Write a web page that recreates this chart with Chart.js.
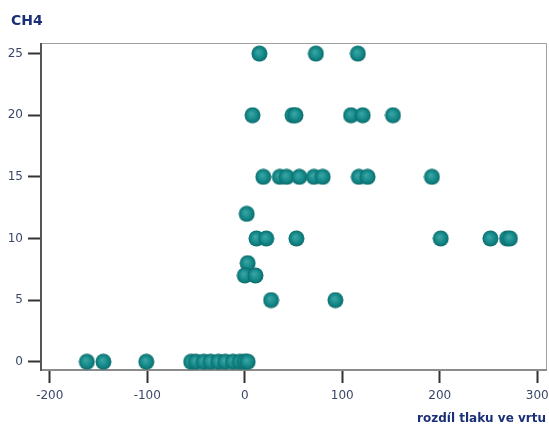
<!DOCTYPE html>
<html><head><meta charset="utf-8">
<script src="https://cdn.jsdelivr.net/npm/chart.js@4/dist/chart.umd.min.js"></script>
<style>html,body{margin:0;padding:0;background:#fff}#wrap{width:549px;height:426px;position:relative}</style>
</head><body><div id="wrap"><canvas id="c" width="549" height="426"></canvas></div>
<script>
const chartTitle = 'CH4';
const xAxisTitle = 'rozdíl tlaku ve vrtu';
const pressureDiff = [
  15, 73, 116,
  8, 49, 52, 109, 121, 152,
  19, 36, 43, 56, 71, 80, 117, 126, 192,
  2,
  12, 22, 53, 201, 252, 269, 272,
  3,
  0, 11,
  27, 93,
  -162, -145, -101, -55, -50, -42, -35, -27, -20, -12, -5, 0, 3
];
const ch4 = [
  25, 25, 25,
  20, 20, 20, 20, 20, 20,
  15, 15, 15, 15, 15, 15, 15, 15, 15,
  12,
  10, 10, 10, 10, 10, 10, 10,
  8,
  7, 7,
  5, 5,
  0, 0, 0, 0, 0, 0, 0, 0, 0, 0, 0, 0, 0
];
const xTickValues = [-200, -100, 0, 100, 200, 300];
const yTickValues = [0, 5, 10, 15, 20, 25];

function sphere(r) {
  const c = document.createElement('canvas');
  const s = r * 2 + 1;
  c.width = s; c.height = s;
  const g = c.getContext('2d');
  const grad = g.createRadialGradient(s*0.42, s*0.4, 0.5, s/2, s/2, r);
  grad.addColorStop(0, '#3aa5a5');
  grad.addColorStop(0.6, '#158a8a');
  grad.addColorStop(1, '#0c6c6c');
  g.fillStyle = grad;
  g.beginPath(); g.arc(s/2, s/2, r, 0, Math.PI*2); g.fill();
  return c;
}
const ball = sphere(8);

const points = pressureDiff.map((x, i) => ({x: x, y: ch4[i]}));

const framePlugin = {
  id: 'frame',
  beforeDatasetsDraw(chart) {
    const {ctx, chartArea: a} = chart;
    ctx.save();
    ctx.lineWidth = 1;
    ctx.strokeStyle = '#a0a0a0';
    ctx.beginPath();
    ctx.moveTo(a.left, a.top + 0.5); ctx.lineTo(a.right + 0.5, a.top + 0.5);
    ctx.lineTo(a.right + 0.5, a.bottom);
    ctx.stroke();
    ctx.strokeStyle = '#8c8c8c';
    ctx.lineWidth = 2;
    ctx.beginPath();
    ctx.moveTo(a.left, a.bottom); ctx.lineTo(a.right + 1, a.bottom);
    ctx.stroke();
    ctx.strokeStyle = '#555555';
    ctx.lineWidth = 2;
    ctx.beginPath();
    ctx.moveTo(a.left, a.top); ctx.lineTo(a.left, a.bottom + 1);
    ctx.stroke();
    ctx.restore();
  },
  afterDraw(chart) {
    const ctx = chart.ctx;
    ctx.save();
    ctx.font = 'bold 14px "DejaVu Sans"';
    ctx.fillStyle = '#1b2f78';
    ctx.textBaseline = 'middle';
    ctx.textAlign = 'left';
    ctx.fillText(chartTitle, 11, 21);
    ctx.restore();
  }
};

new Chart(document.getElementById('c'), {
  type: 'scatter',
  data: {
    datasets: [{
      data: points,
      pointStyle: ball,
      pointRadius: 8,
      pointHoverRadius: 8,
      backgroundColor: '#158a8a',
      borderWidth: 0,
      clip: false
    }]
  },
  options: {
    responsive: false,
    animation: false,
    devicePixelRatio: 1,
    layout: {autoPadding: false, padding: {top: 43, right: 3, left: 0, bottom: 0}},
    plugins: {legend: {display: false}, tooltip: {enabled: false}, title: {display: false}},
    scales: {
      x: {
        type: 'linear',
        min: -209,
        max: 309,
        afterBuildTicks(s) { s.ticks = xTickValues.map(v => ({value: v})); },
        afterFit(s) { s.height = 56; s.paddingLeft = 0; s.paddingRight = 0; },
        grid: {drawOnChartArea: false, drawTicks: true, tickLength: 13, color: '#333', tickColor: '#333', tickWidth: 2},
        border: {display: false},
        ticks: {autoSkip: false, maxRotation: 0, padding: 6, color: '#3a4868', font: {family: 'DejaVu Sans', size: 12}, callback: v => String(v)},
        title: {display: true, text: xAxisTitle, align: 'end', color: '#1b2f78', font: {family: 'DejaVu Sans', size: 12, weight: 'bold'}, padding: {top: 4, bottom: 0}}
      },
      y: {
        type: 'linear',
        min: -0.67,
        max: 25.86,
        afterBuildTicks(s) { s.ticks = yTickValues.map(v => ({value: v})); },
        afterFit(s) { s.width = 41; s.paddingTop = 0; s.paddingBottom = 0; },
        grid: {drawOnChartArea: false, drawTicks: true, tickLength: 13, color: '#333', tickColor: '#333', tickWidth: 2},
        border: {display: false},
        ticks: {autoSkip: false, padding: 5, color: '#3a4868', font: {family: 'DejaVu Sans', size: 12}, callback: v => String(v)}
      }
    }
  },
  plugins: [framePlugin]
});
</script>
</body></html>
